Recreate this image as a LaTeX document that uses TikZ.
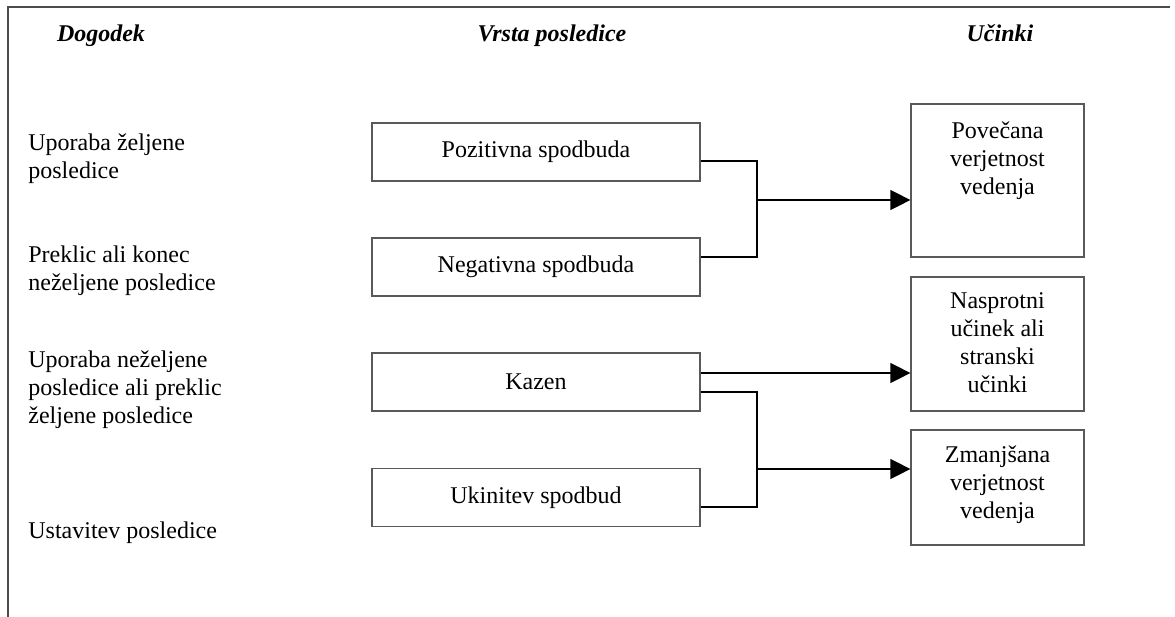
\documentclass[tikz,border=0pt]{standalone}
\usepackage{fontspec}
\setmainfont{Liberation Serif}
\usetikzlibrary{arrows.meta,calc}
\begin{document}
\begin{tikzpicture}[x=0.5pt,y=-0.5pt,
  every node/.style={font=\fontsize{12}{14}\selectfont, inner sep=0pt},
  head/.style={font=\fontsize{12}{14}\selectfont\bfseries\itshape, anchor=base},
  event/.style={align=left, anchor=west},
  kind/.style={draw=black!65, line width=0.6pt, minimum width=164pt, minimum height=29pt},
  effect/.style={draw=black!65, line width=0.6pt, minimum width=86.5pt},
  efftext/.style={align=center},
  link/.style={line width=0.6pt},
  arr/.style={link, -{Triangle[length=10pt,width=10pt]}}]
\useasboundingbox (0,0) rectangle (1175,617);

% frame
\draw[line width=0.6pt, black!70] (1170,7) -- (8,7) -- (8,617);

% column headings
\node[head] (h1) at (101,41) {Dogodek};
\node[head] (h2) at (552,41) {Vrsta posledice};
\node[head] (h3) at (1000,41) {Učinki};

% events
\node[event] (e1) at (28,158.5) {Uporaba željene\\posledice};
\node[event] (e2) at (28,270.5) {Preklic ali konec\\neželjene posledice};
\node[event] (e3) at (28,389.5) {Uporaba neželjene\\posledice ali preklic\\željene posledice};
\node[event] (e4) at (28,532.5) {Ustavitev posledice};

% kinds of consequence
\node[kind] (pos) at (536,152) {Pozitivna spodbuda};
\node[kind] (neg) at (536,267) {Negativna spodbuda};
\node[kind] (kaz) at (536,382) {Kazen};
\node[kind] (uki) at (536,497.5) {Ukinitev spodbud};

% effects
\node[effect, minimum height=76.5pt] (inc) at (997.5,180.5) {};
\node[efftext] (inct) at (997.5,161) {Povečana\\verjetnost\\vedenja};
\node[effect, minimum height=67pt] (opp) at (997.5,344) {};
\node[efftext] (oppt) at (997.5,343) {Nasprotni\\učinek ali\\stranski\\učinki};
\node[effect, minimum height=57.5pt] (dec) at (997.5,487.5) {};
\node[efftext] (dect) at (997.5,485) {Zmanjšana\\verjetnost\\vedenja};

% connectors
\coordinate (j1) at (757,200);
\coordinate (j2) at (757,469);
\coordinate (kout) at ([yshift=4.5pt]kaz.east);
\draw[link] ([yshift=-4.5pt]pos.east) -| (j1) |- ([yshift=5pt]neg.east);
\draw[arr] (j1) -- (inc.west |- j1);
\draw[arr] (kout) -- (opp.west |- kout);
\draw[link] ([yshift=-5pt]kaz.east) -| (j2) |- ([yshift=-4.75pt]uki.east);
\draw[arr] (j2) -- (dec.west |- j2);
\end{tikzpicture}
\end{document}
